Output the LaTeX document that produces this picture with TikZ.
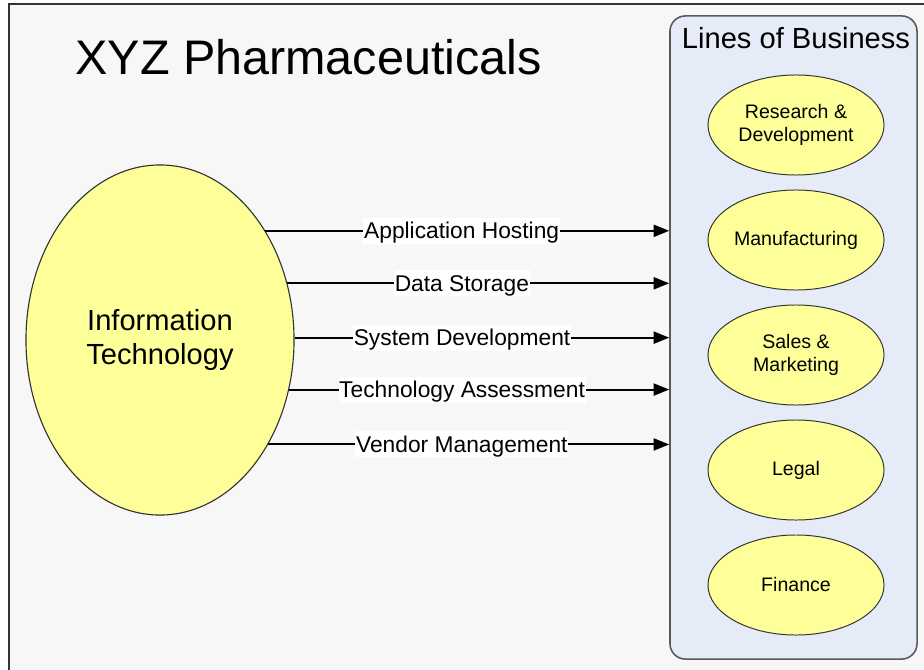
\documentclass[tikz,border=0pt]{standalone}
\usepackage{fontspec}
\setmainfont{Liberation Sans}
\usetikzlibrary{arrows.meta,shapes.geometric}

\definecolor{pagebg}{HTML}{F7F7F7}
\definecolor{lobfill}{HTML}{E6ECF7}
\definecolor{ovalfill}{HTML}{FFFF99}

\begin{document}
\begin{tikzpicture}[x=0.025cm, y=-0.025cm,
        itoval/.style={ellipse, draw=black!80, line width=0.8pt, fill=ovalfill,
            minimum width=6.7cm, minimum height=8.75cm, align=center,
            font=\fontsize{20.7}{23.6}\selectfont},
        lobpanel/.style={rectangle, rounded corners=11pt, draw=black!65, line width=1.1pt,
            fill=lobfill, minimum width=6.175cm, minimum height=16.075cm},
        lineoval/.style={ellipse, draw=black!80, line width=0.7pt, fill=ovalfill, inner sep=0pt,
            minimum width=4.4cm, minimum height=2.5cm, align=center,
            font=\fontsize{13.9}{16.3}\selectfont},
        service/.style={draw=black, line width=1.4pt, -{Triangle[length=11pt,width=8.5pt]}},
        servicelbl/.style={fill=white, inner sep=0.5pt, text height=14.5pt, text depth=3pt,
            font=\fontsize{16.2}{19}\selectfont}]
        \useasboundingbox (0,0) rectangle (924,669);
        \clip (0,0) rectangle (924,669);
        \fill[white] (0,0) rectangle (924,669);
        \draw[fill=pagebg, draw=black!80, line width=1.4pt] (9,4) rectangle (960,700);

        \node[anchor=base west, inner sep=0, font=\fontsize{34.5}{40}\selectfont] (title) at (75,75) {XYZ Pharmaceuticals};

        \node[itoval] (it) at (160,340) {Information\\Technology};

        \node[lobpanel] (lob) at (793.5,337.5) {};
        \node[anchor=base, inner sep=0, font=\fontsize{20.7}{24}\selectfont] (lobtitle) at (796,49) {Lines of Business};

        \node[lineoval] (rnd) at (796,125) {Research \&\\Development};
        \node[lineoval] (mfg) at (796,240) {Manufacturing};
        \node[lineoval] (sales) at (796,355) {Sales \&\\Marketing};
        \node[lineoval] (legal) at (796,470) {Legal};
        \node[lineoval] (fin) at (796,585) {Finance};

        \draw[service] (it.46.55) -- (it.46.55 -| lob.west) node[servicelbl, pos=0.486] {Application Hosting};
        \draw[service] (it.24.22) -- (it.24.22 -| lob.west) node[servicelbl, pos=0.457] {Data Storage};
        \draw[service] (it.1.28) -- (it.1.28 -| lob.west) node[servicelbl, pos=0.447] {System Development};
        \draw[service] (it.-21.9) -- (it.-21.9 -| lob.west) node[servicelbl, pos=0.455] {Technology Assessment};
        \draw[service] (it.-44.4) -- (it.-44.4 -| lob.west) node[servicelbl, pos=0.483] {Vendor Management};
    \end{tikzpicture}
\end{document}
